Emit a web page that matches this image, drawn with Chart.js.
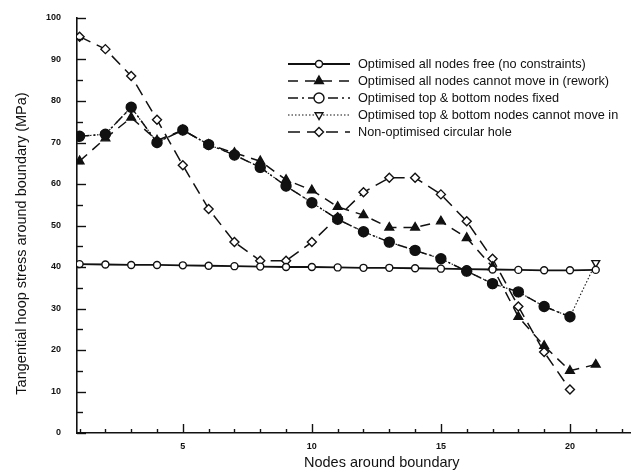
<!DOCTYPE html>
<html>
<head>
<meta charset="utf-8">
<script src="https://cdn.jsdelivr.net/npm/chart.js@4/dist/chart.umd.min.js"></script>
<style>
  html, body { margin: 0; padding: 0; background: #fff; }
  #wrap { width: 637px; height: 473px; }
</style>
</head>
<body>
<div id="wrap"><canvas id="c" width="637" height="473"></canvas></div>
<script>
// Node numbers around the hole boundary
const nodes = [1, 2, 3, 4, 5, 6, 7, 8, 9, 10, 11, 12, 13, 14, 15, 16, 17, 18, 19, 20, 21];

// Tangential hoop stress (MPa) per node, one array per design case
const freeAllNodes      = [40.7, 40.6, 40.5, 40.5, 40.4, 40.3, 40.2, 40.1, 40.0, 40.0, 39.9, 39.8, 39.8, 39.7, 39.6, 39.5, 39.4, 39.3, 39.2, 39.2, 39.3];
const reworkNoMoveIn    = [65.5, 71.0, 76.0, 70.5, 73.0, 69.5, 67.5, 65.5, 61.0, 58.5, 54.5, 52.5, 49.5, 49.5, 51.0, 47.0, 40.0, 28.0, 21.0, 15.0, 16.5];
const topBottomFixed    = [71.5, 72.0, 78.5, 70.0, 73.0, 69.5, 67.0, 64.0, 59.5, 55.5, 51.5, 48.5, 46.0, 44.0, 42.0, 39.0, 36.0, 34.0, 30.5, 28.0];
const topBottomNoMoveIn = [71.5, 72.0, 78.5, 70.0, 73.0, 69.5, 67.0, 64.0, 59.5, 55.5, 51.5, 48.5, 46.0, 44.0, 42.0, 39.0, 36.0, 34.0, 30.5, 28.0, 41.0];
const circularHole      = [95.5, 92.5, 86.0, 75.5, 64.5, 54.0, 46.0, 41.5, 41.5, 46.0, 52.0, 58.0, 61.5, 61.5, 57.5, 51.0, 42.0, 30.5, 19.5, 10.5];

const seriesNames = [
  'Optimised all nodes free (no constraints)',
  'Optimised all nodes cannot move in (rework)',
  'Optimised top & bottom nodes fixed',
  'Optimised top & bottom nodes cannot move in',
  'Non-optimised circular hole'
];

const yTickValues = [0, 10, 20, 30, 40, 50, 60, 70, 80, 90, 100];
const xTickLabels = [5, 10, 15, 20];
const xTitle = 'Nodes around boundary';
const yTitle = 'Tangential hoop stress around boundary (MPa)';

const INK = '#111';
Chart.defaults.font.family = '"Liberation Sans", Arial, Helvetica, sans-serif';
Chart.defaults.color = INK;

const pts = vals => vals.map((v, i) => ({ x: nodes[i], y: v }));

// Short inward-pointing tick marks on both axes
const inwardTicks = {
  id: 'inwardTicks',
  afterDatasetsDraw(chart) {
    const { ctx, scales: { x, y }, chartArea: a } = chart;
    ctx.save();
    ctx.strokeStyle = INK;
    ctx.lineWidth = 1.4;
    for (let v = 0; v <= 100; v += 5) {
      const py = Math.round(y.getPixelForValue(v)) + 0.5;
      const len = v % 10 === 0 ? 9 : 6;
      ctx.beginPath(); ctx.moveTo(a.left, py); ctx.lineTo(a.left + len, py); ctx.stroke();
    }
    for (let n = 1; n <= 22; n++) {
      const px = Math.round(x.getPixelForValue(n)) + 0.5;
      const len = n % 5 === 0 ? 9 : 4;
      ctx.beginPath(); ctx.moveTo(px, a.bottom); ctx.lineTo(px, a.bottom - len); ctx.stroke();
    }
    ctx.restore();
  }
};

// Legend drawn inside the plot: line sample with its marker, then the label
const insideLegend = {
  id: 'insideLegend',
  afterDraw(chart) {
    const { ctx } = chart;
    const x0 = 288, x1 = 350, tx = 358, y0 = 64, dy = 17;
    ctx.save();
    chart.data.datasets.forEach((ds, i) => {
      const yy = y0 + i * dy;
      ctx.strokeStyle = INK;
      ctx.lineWidth = ds.borderWidth;
      ctx.setLineDash(ds.borderDash || []);
      ctx.beginPath(); ctx.moveTo(x0, yy); ctx.lineTo(x1, yy); ctx.stroke();
      ctx.setLineDash([]);
      ctx.fillStyle = ds.legendFill || ds.pointBackgroundColor;
      ctx.strokeStyle = INK;
      ctx.lineWidth = 1.4;
      Chart.helpers.drawPoint(ctx, {
        pointStyle: ds.pointStyle, rotation: ds.pointRotation || 0,
        radius: ds.legendRadius || ds.pointRadius, borderWidth: 1.4
      }, (x0 + x1) / 2, yy);
      ctx.fillStyle = INK;
      ctx.font = '12.7px "Liberation Sans", Arial, sans-serif';
      ctx.textBaseline = 'middle';
      ctx.fillText(ds.label, tx, yy);
    });
    ctx.restore();
  }
};

// Axis titles
const axisTitles = {
  id: 'axisTitles',
  afterDraw(chart) {
    const { ctx, chartArea: a } = chart;
    ctx.save();
    ctx.fillStyle = INK;
    ctx.font = '14.5px "Liberation Sans", Arial, sans-serif';
    ctx.textAlign = 'center';
    ctx.textBaseline = 'middle';
    ctx.fillText(xTitle, (a.left + a.right) / 2 + 28, 463);
    ctx.translate(22, (a.top + a.bottom) / 2 + 18);
    ctx.rotate(-Math.PI / 2);
    ctx.fillText(yTitle, 0, 0);
    ctx.restore();
  }
};

const common = { borderColor: INK, pointBorderColor: INK, pointBorderWidth: 1.4, fill: false, tension: 0 };

new Chart(document.getElementById('c'), {
  type: 'line',
  data: {
    datasets: [
      { ...common, label: seriesNames[0], data: pts(freeAllNodes), borderWidth: 1.8,
        pointStyle: 'circle', pointRadius: 3.5, pointBackgroundColor: '#fff', order: 1 },
      { ...common, label: seriesNames[1], data: pts(reworkNoMoveIn), borderWidth: 1.5, borderDash: [10, 7],
        pointStyle: 'triangle', pointRadius: 5, pointBackgroundColor: INK, order: 1 },
      { ...common, label: seriesNames[2], data: pts(topBottomFixed), borderWidth: 1.5, borderDash: [10, 4, 2, 4],
        pointStyle: 'circle', pointRadius: 5, pointBackgroundColor: INK, legendFill: '#fff', order: 0 },
      { ...common, label: seriesNames[3], data: pts(topBottomNoMoveIn), borderWidth: 1.1, borderDash: [1.5, 2],
        pointStyle: 'triangle', pointRotation: 180, pointRadius: 4.5, pointBackgroundColor: '#fff', order: 2 },
      { ...common, label: seriesNames[4], data: pts(circularHole), borderWidth: 1.5, borderDash: [12, 7],
        pointStyle: 'rectRot', pointRadius: 4.5, pointBackgroundColor: '#fff', order: 1 }
    ]
  },
  options: {
    responsive: false,
    animation: false,
    devicePixelRatio: 1,
    layout: { padding: { top: 18, right: 4, left: 0, bottom: 0 } },
    plugins: { legend: { display: false }, tooltip: { enabled: false } },
    scales: {
      x: {
        type: 'linear', min: 0.9, max: 22.35,
        grid: { display: false },
        border: { display: true, color: INK, width: 1.6 },
        ticks: {
          stepSize: 1, autoSkip: false, maxRotation: 0, padding: 0,
          font: { size: 9, weight: 'bold' },
          callback: v => xTickLabels.includes(v) ? String(v) : ''
        },
        afterFit: s => { s.height = 40; }
      },
      y: {
        type: 'linear', min: 0, max: 100,
        grid: { display: false },
        border: { display: true, color: INK, width: 1.6 },
        afterBuildTicks: s => { s.ticks = yTickValues.map(v => ({ value: v })); },
        ticks: { padding: 8, font: { size: 9, weight: 'bold' } },
        afterFit: s => { s.width = 77; }
      }
    }
  },
  plugins: [inwardTicks, insideLegend, axisTitles]
});
</script>
</body>
</html>
